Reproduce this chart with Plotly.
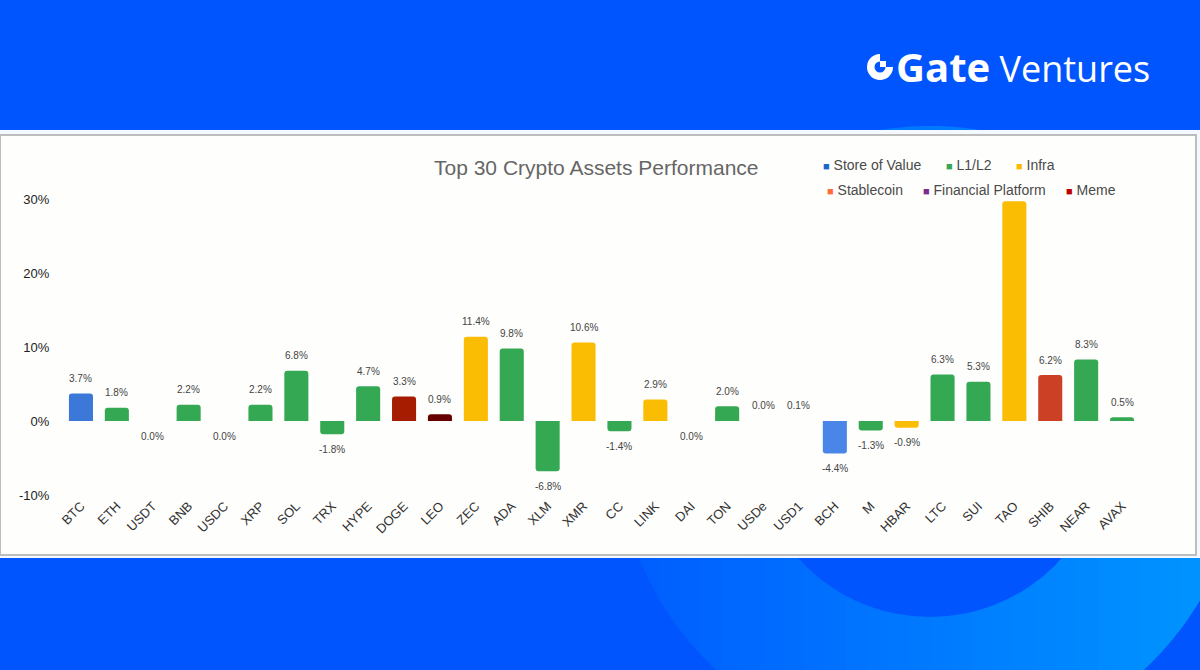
import numpy as np
import plotly.graph_objects as go

# ---------------- data ----------------
assets = ["BTC", "ETH", "USDT", "BNB", "USDC", "XRP", "SOL", "TRX", "HYPE", "DOGE",
          "LEO", "ZEC", "ADA", "XLM", "XMR", "CC", "LINK", "DAI", "TON", "USDe",
          "USD1", "BCH", "M", "HBAR", "LTC", "SUI", "TAO", "SHIB", "NEAR", "AVAX"]
performance = [3.7, 1.8, -0.01, 2.2, -0.01, 2.2, 6.8, -1.8, 4.7, 3.3,
               0.9, 11.4, 9.8, -6.8, 10.6, -1.4, 2.9, -0.01, 2.0, 0.02,
               0.1, -4.4, -1.3, -0.9, 6.3, 5.3, 29.7, 6.2, 8.3, 0.5]
bar_colors = ["#3C78D8", "#34A853", "#FF6D3A", "#34A853", "#FF6D3A", "#34A853", "#34A853", "#34A853", "#34A853", "#A61C00",
              "#660000", "#FBBC04", "#34A853", "#34A853", "#FBBC04", "#34A853", "#FBBC04", "#FF6D3A", "#34A853", "#FF6D3A",
              "#FF6D3A", "#4A86E8", "#34A853", "#FBBC04", "#34A853", "#34A853", "#FBBC04", "#CC4125", "#34A853", "#34A853"]
legend_names = ["Store of Value", "L1/L2", "Infra", "Stablecoin", "Financial Platform", "Meme"]
legend_colors = ["#1A66CC", "#34A853", "#FBBC04", "#FF6D3A", "#7B2D8E", "#C00000"]
y_ticks = [-10, 0, 10, 20, 30]
y_range = [-10, 30]

# ---------------- geometry helpers ----------------
W, H = 1200, 670
ML, MR, MT, MB = 63, 60, 199, 175
PW, PH = W - ML - MR, H - MT - MB


def px(x):
    return (x - ML) / PW


def py(y):
    return (H - MB - y) / PH


def lerp_color(c1, c2, t):
    a = [int(c1[i:i + 2], 16) for i in (1, 3, 5)]
    b = [int(c2[i:i + 2], 16) for i in (1, 3, 5)]
    return "#" + "".join(f"{int(round(a[k] + (b[k] - a[k]) * t)):02x}" for k in range(3))


BLUE = "#0055FF"
shapes = []

# decorative ring in the background (gradient slices)
cx, cy, R, r_in = 930, 440, 314, 177
n = 30
edges = np.linspace(cx - R, cx + R, n + 1)
for i in range(n):
    xa, xb = edges[i], min(edges[i + 1] + 1.0, cx + R)
    xs = np.linspace(xa, xb, 12)
    dy = np.sqrt(np.clip(R ** 2 - (xs - cx) ** 2, 0, None))
    top = [(x, cy - d) for x, d in zip(xs, dy)]
    bot = [(x, cy + d) for x, d in zip(xs[::-1], dy[::-1])]
    pts = top + bot
    path = "M " + " L ".join(f"{px(x):.5f},{py(y):.5f}" for x, y in pts) + " Z"
    t = (0.5 * (xa + xb) - (cx - R)) / (2 * R)
    shapes.append(dict(type="path", path=path, xref="paper", yref="paper", layer="below",
                       fillcolor=lerp_color("#005CFF", "#0098FF", t), line=dict(width=0)))
shapes.append(dict(type="circle", xref="paper", yref="paper", layer="below",
                   x0=px(cx - r_in), x1=px(cx + r_in), y0=py(cy + r_in), y1=py(cy - r_in),
                   fillcolor=BLUE, line=dict(width=0)))

# white panel
shapes.append(dict(type="rect", xref="paper", yref="paper", layer="below",
                   x0=px(0), x1=px(1200), y0=py(558), y1=py(130),
                   fillcolor="#F4F8FF", line=dict(width=0)))
shapes.append(dict(type="rect", xref="paper", yref="paper", layer="below",
                   x0=px(0), x1=px(1196), y0=py(555), y1=py(135),
                   fillcolor="#FEFEFC", line=dict(color="#BDBDBD", width=2)))

# Gate logo icon
lx, ly, lr = 880, 67, 13
shapes.append(dict(type="circle", xref="paper", yref="paper", layer="above",
                   x0=px(lx - lr), x1=px(lx + lr), y0=py(ly + lr), y1=py(ly - lr),
                   fillcolor="white", line=dict(width=0)))
shapes.append(dict(type="rect", xref="paper", yref="paper", layer="above",
                   x0=px(lx), x1=px(lx + lr + 1), y0=py(ly), y1=py(ly - lr - 1),
                   fillcolor=BLUE, line=dict(width=0)))
shapes.append(dict(type="circle", xref="paper", yref="paper", layer="above",
                   x0=px(lx - 5.5), x1=px(lx + 5.5), y0=py(ly + 5.5), y1=py(ly - 5.5),
                   fillcolor=BLUE, line=dict(width=0)))
shapes.append(dict(type="rect", xref="paper", yref="paper", layer="above",
                   x0=px(lx), x1=px(lx + 6), y0=py(ly), y1=py(ly - 6),
                   fillcolor="white", line=dict(width=0)))

# ---------------- figure ----------------
fig = go.Figure()
fig.add_trace(go.Bar(
    x=assets, y=performance,
    marker=dict(color=bar_colors, line=dict(width=0),
                opacity=[1.0 if abs(v) >= 0.2 else 0.0 for v in performance]),
    showlegend=False, hoverinfo="x+y",
))

annotations = []
# data labels
for a, v in zip(assets, performance):
    lab = f"{v:.1f}%"
    if lab == "-0.0%":
        lab = "0.0%"
    if v + 2.5 > y_range[1]:
        continue  # label would fall outside the plotting area
    annotations.append(dict(x=a, y=v, xref="x", yref="y", text=lab, showarrow=False,
                            yshift=15 if v > 0 else -15, yanchor="middle",
                            font=dict(family="Liberation Sans, Arial", size=10, color="#444444")))

# title
annotations.append(dict(x=px(596), y=py(167), xref="paper", yref="paper", xanchor="center", yanchor="middle",
                        text="Top 30 Crypto Assets Performance", showarrow=False,
                        font=dict(family="Liberation Sans, Arial", size=21, color="#666666")))

# legend (manual)
leg_pos = [(821, 165), (944, 165), (1014, 165), (825, 190), (921, 190), (1064, 190)]
for name, col, (lxp, lyp) in zip(legend_names, legend_colors, leg_pos):
    annotations.append(dict(x=px(lxp), y=py(lyp), xref="paper", yref="paper", xanchor="left", yanchor="middle",
                            text=f"<span style='color:{col};font-size:11px'>■</span> {name}", showarrow=False,
                            font=dict(family="Liberation Sans, Arial", size=14, color="#4A4A4A")))

# logo text
annotations.append(dict(x=px(894), y=py(67), xref="paper", yref="paper", xanchor="left", yanchor="middle",
                        text="<span style='font-size:40px'><b>Gate</b></span> Ventures", showarrow=False,
                        font=dict(family="Open Sans, sans-serif", size=36, color="white")))

fig.update_layout(
    width=W, height=H,
    margin=dict(l=ML, r=MR, t=MT, b=MB, pad=0),
    paper_bgcolor=BLUE, plot_bgcolor="rgba(0,0,0,0)",
    bargap=0.33, barcornerradius=3,
    shapes=shapes, annotations=annotations,
    xaxis=dict(type="category", tickangle=-45, showgrid=False, showline=False, zeroline=False,
               ticks="", tickfont=dict(family="Liberation Sans, Arial", size=13, color="#333333")),
    yaxis=dict(range=y_range, tickmode="array", tickvals=y_ticks,
               ticktext=[f"{v}%" for v in y_ticks], showgrid=False, zeroline=False,
               showline=False, ticks="outside", ticklen=10, tickcolor="rgba(0,0,0,0)",
               tickfont=dict(family="Liberation Sans, Arial", size=13, color="#222222")),
    font=dict(family="Liberation Sans, Arial"),
)

fig.write_html("out.html")
